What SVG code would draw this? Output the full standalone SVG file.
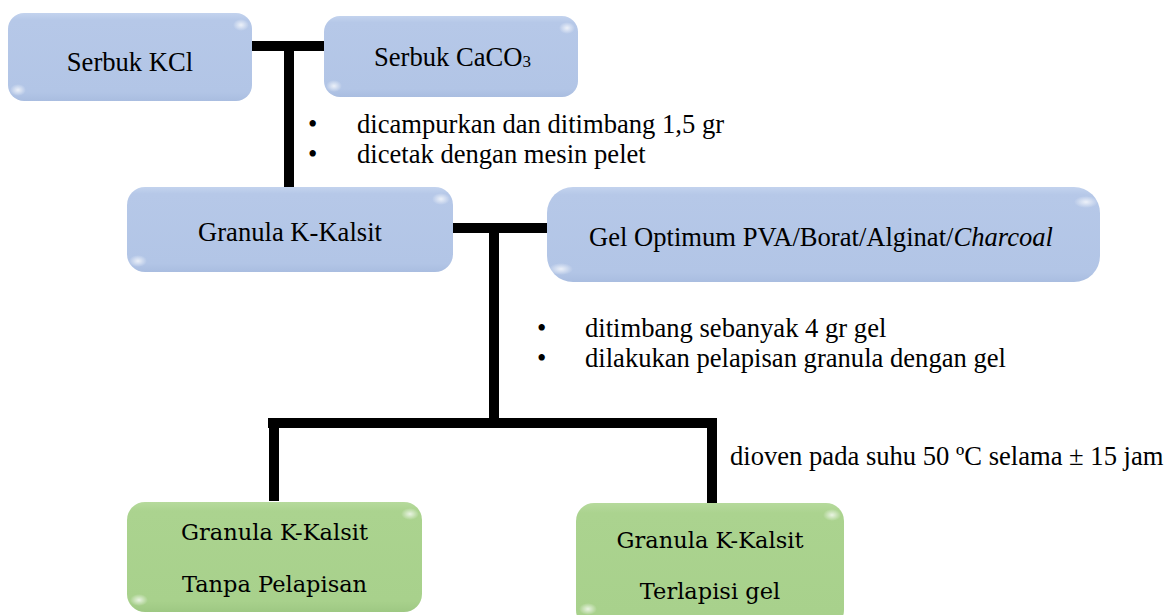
<svg xmlns="http://www.w3.org/2000/svg" width="1167" height="615" viewBox="0 0 1167 615">
<defs>
<linearGradient id="gb" x1="0" y1="0" x2="0" y2="1">
<stop offset="0" stop-color="#c3d3ee"/>
<stop offset="0.08" stop-color="#b6c8e8"/>
<stop offset="0.9" stop-color="#b2c5e6"/>
<stop offset="1" stop-color="#a9bde0"/>
</linearGradient>
<linearGradient id="gg" x1="0" y1="0" x2="0" y2="1">
<stop offset="0" stop-color="#b6da9c"/>
<stop offset="0.08" stop-color="#abd38f"/>
<stop offset="0.9" stop-color="#a8d18c"/>
<stop offset="1" stop-color="#9ec883"/>
</linearGradient>
<radialGradient id="hl">
<stop offset="0" stop-color="#ffffff" stop-opacity="0.75"/>
<stop offset="1" stop-color="#ffffff" stop-opacity="0"/>
</radialGradient>
</defs>
<style>
.blue{fill:url(#gb);}
.green{fill:url(#gg);}
.hl{fill:url(#hl);}
.t{font-family:"Liberation Serif","Times New Roman",serif;font-size:26.6px;fill:#000;}
.c{font-family:"DejaVu Serif",Cambria,serif;font-size:22.5px;fill:#000;}
.ln{stroke:#000;stroke-width:10;fill:none;stroke-linecap:butt;}
</style>
<g id="connectors">
<path class="ln" d="M249 46H324M289 41V187"/>
<path class="ln" d="M448 228H547M494 223V423"/>
<path class="ln" d="M268 423H717M274 418V501M712 418V509"/>
</g>
<g id="node-kcl">
<rect class="blue" x="8" y="13" width="244" height="88" rx="16"/>
<ellipse class="hl" cx="241" cy="25" rx="8" ry="6"/>
<ellipse class="hl" cx="18" cy="90" rx="8" ry="6"/>
<text class="t" x="130" y="71" text-anchor="middle">Serbuk KCl</text>
</g>
<g id="node-caco3">
<rect class="blue" x="324" y="16" width="254" height="81" rx="16"/>
<ellipse class="hl" cx="567" cy="28" rx="8" ry="6"/>
<ellipse class="hl" cx="334" cy="86" rx="8" ry="6"/>
<text class="t" x="374" y="66">Serbuk CaCO<tspan font-size="17" dy="1">3</tspan></text>
</g>
<g id="note-1">
<text class="t" x="308" y="133">•</text>
<text class="t" x="357" y="133">dicampurkan dan ditimbang 1,5 gr</text>
<text class="t" x="308" y="163">•</text>
<text class="t" x="357" y="163">dicetak dengan mesin pelet</text>
</g>
<g id="node-granula">
<rect class="blue" x="127" y="187" width="326" height="85" rx="18"/>
<ellipse class="hl" cx="441" cy="199" rx="9" ry="6"/>
<ellipse class="hl" cx="138" cy="261" rx="9" ry="6"/>
<text class="t" x="290" y="241" text-anchor="middle">Granula K-Kalsit</text>
</g>
<g id="node-gel">
<rect class="blue" x="547" y="187" width="553" height="95" rx="26"/>
<ellipse class="hl" cx="1086" cy="202" rx="12" ry="6"/>
<ellipse class="hl" cx="561" cy="269" rx="12" ry="6"/>
<text class="t" x="589" y="246">Gel Optimum PVA/Borat/Alginat/<tspan font-style="italic">Charcoal</tspan></text>
</g>
<g id="note-2">
<text class="t" x="537" y="337">•</text>
<text class="t" x="585" y="337">ditimbang sebanyak 4 gr gel</text>
<text class="t" x="537" y="367">•</text>
<text class="t" x="585" y="367">dilakukan pelapisan granula dengan gel</text>
</g>
<g id="note-3">
<text class="t" x="730" y="465">dioven pada suhu 50 ºC selama ± 15 jam</text>
</g>
<g id="node-tanpa">
<rect class="green" x="127" y="502" width="295" height="110" rx="18"/>
<ellipse class="hl" cx="410" cy="514" rx="9" ry="6"/>
<ellipse class="hl" cx="139" cy="600" rx="9" ry="6"/>
<text class="c" x="274.5" y="540" text-anchor="middle">Granula K-Kalsit</text>
<text class="c" x="274.5" y="592" text-anchor="middle">Tanpa Pelapisan</text>
</g>
<g id="node-terlapisi">
<rect class="green" x="576" y="503" width="268" height="125" rx="18"/>
<ellipse class="hl" cx="832" cy="515" rx="9" ry="6"/>
<ellipse class="hl" cx="588" cy="609" rx="9" ry="6"/>
<text class="c" x="710" y="548" text-anchor="middle">Granula K-Kalsit</text>
<text class="c" x="710" y="599" text-anchor="middle">Terlapisi gel</text>
</g>
</svg>
